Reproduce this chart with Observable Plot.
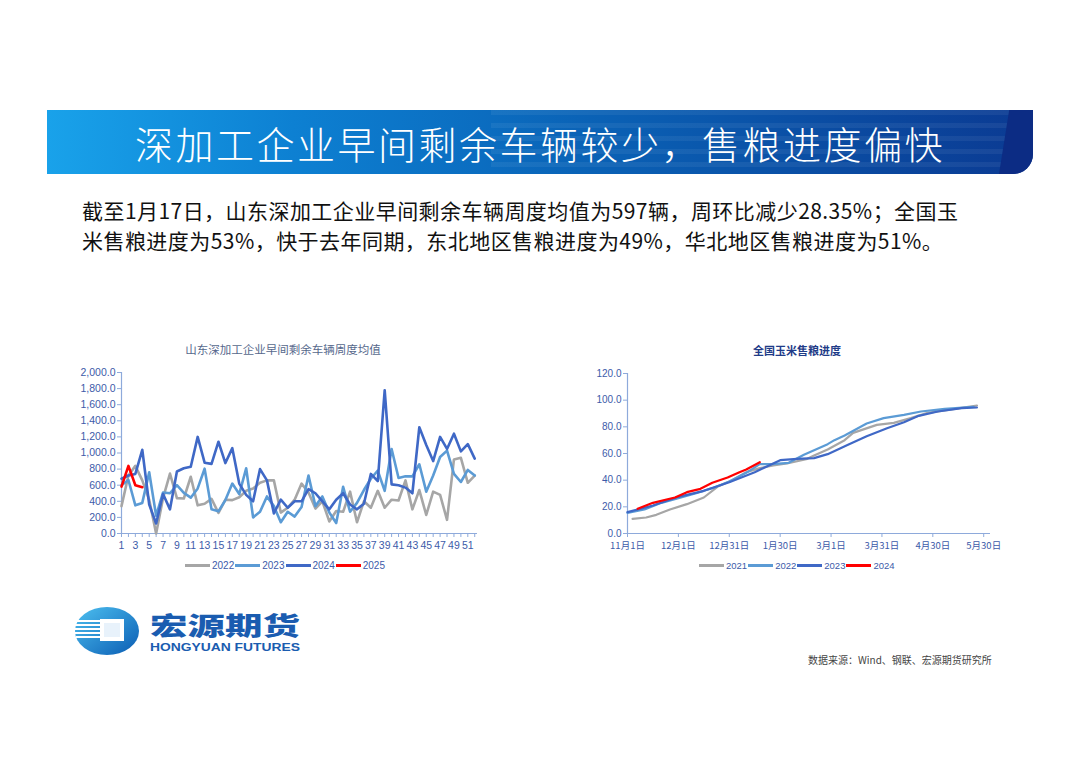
<!DOCTYPE html>
<html><head><meta charset="utf-8">
<script src="https://cdn.jsdelivr.net/npm/d3@7"></script>
<script src="https://cdn.jsdelivr.net/npm/@observablehq/plot@0.6"></script>
<style>
html,body{margin:0;padding:0;background:#fff;}
#page{position:relative;width:1080px;height:764px;overflow:hidden;font-family:"Noto Sans CJK SC",sans-serif;background:#fff;}
.abs{position:absolute;}
#banner{left:47px;top:110px;width:986px;height:64px;overflow:hidden;border-bottom-right-radius:20px;
  background:linear-gradient(90deg,#19a2ea 0%,#0d80d2 25%,#0a62b6 55%,#0a479e 85%,#0b3a92 100%);}
#stripes{right:0;top:0;width:55%;height:100%;
  background:repeating-linear-gradient(180deg,rgba(255,255,255,0.06) 0 5px,rgba(255,255,255,0) 5px 13px);}
#wedge{right:0;top:0;width:34px;height:100%;background:#0c2c84;clip-path:polygon(30% 0,100% 0,100% 100%,0 100%);}
#title{left:135px;top:118px;color:#fff;font-size:38px;font-weight:300;letter-spacing:2.5px;white-space:nowrap;line-height:50px;}
#body{left:82px;top:195px;width:960px;font-size:21px;line-height:30px;color:#111;white-space:nowrap;letter-spacing:0.45px;}
.ctitle{white-space:nowrap;transform:translateX(-50%);}
.legend{display:flex;align-items:center;white-space:nowrap;font-family:"Liberation Sans",Arial,sans-serif;}
.legend .sw{display:inline-block;width:25px;height:3px;margin-right:2px;}
.legend .lb{margin-right:1px;}
#source{left:808px;top:652px;font-size:10px;color:#444;white-space:nowrap;}
</style>
</head><body>
<div id="page">
  <div id="banner" class="abs"><div id="stripes" class="abs"></div><div id="wedge" class="abs"></div></div>
  <div id="title" class="abs">深加工企业早间剩余车辆较少，售粮进度偏快</div>
  <div id="body" class="abs">截至1月17日，山东深加工企业早间剩余车辆周度均值为597辆，周环比减少28.35%；全国玉<br>米售粮进度为53%，快于去年同期，东北地区售粮进度为49%，华北地区售粮进度为51%。</div>

  <div class="abs ctitle" style="left:283px;top:341px;font-size:11.5px;color:#56688c;">山东深加工企业早间剩余车辆周度均值</div>
  <div id="leftChart" class="abs" style="left:70px;top:362px;"></div>
  <div id="leftLegend" class="abs legend" style="left:185px;top:560px;font-size:10px;color:#3d5ba9;"></div>

  <div class="abs ctitle" style="left:797px;top:342px;font-size:11px;font-weight:700;color:#1f3c88;">全国玉米售粮进度</div>
  <div id="rightChart" class="abs" style="left:575px;top:363px;"></div>
  <div id="rightLegend" class="abs legend" style="left:699px;top:560px;font-size:9.5px;color:#3d5ba9;"></div>

  <svg class="abs" style="left:70px;top:602px;" width="240" height="60" viewBox="0 0 240 60">
    <defs>
      <linearGradient id="lg" x1="0" y1="0" x2="1" y2="1">
        <stop offset="0" stop-color="#4dc0f0"/><stop offset="1" stop-color="#0a5cb3"/>
      </linearGradient>
    </defs>
    <ellipse cx="37" cy="29" rx="32" ry="24" fill="url(#lg)"/>
    <rect x="30" y="17" width="24" height="22" fill="#fff"/>
    <rect x="34" y="21" width="16" height="14" fill="#e8f2fb"/>
    <g fill="#fff">
      <rect x="6" y="18" width="24" height="2"/><rect x="5" y="22" width="25" height="2"/>
      <rect x="5" y="26" width="25" height="2"/><rect x="5" y="30" width="25" height="2"/>
      <rect x="6" y="34" width="24" height="2"/>
    </g>
    <text x="80" y="33" font-family="Noto Sans CJK SC" font-weight="900" font-size="25" fill="#1a5cb0" textLength="150" lengthAdjust="spacingAndGlyphs">宏源期货</text>
    <text x="80" y="48.5" font-family="Liberation Sans, Arial" font-weight="700" font-size="10.5" fill="#1a5cb0" textLength="150" lengthAdjust="spacingAndGlyphs">HONGYUAN FUTURES</text>
  </svg>
  <div id="source" class="abs">数据来源：Wind、钢联、宏源期货研究所</div>
</div>
<script>
// ---------- Left chart data: 山东深加工企业早间剩余车辆周度均值 ----------
const weeks = [1,2,3,4,5,6,7,8,9,10,11,12,13,14,15,16,17,18,19,20,21,22,23,24,25,26,27,28,29,30,31,32,33,34,35,36,37,38,39,40,41,42,43,44,45,46,47,48,49,50,51,52];
const s2022 = [340,720,840,660,420,0,440,745,440,435,705,350,370,430,255,420,415,450,530,560,630,660,660,260,320,420,620,510,310,400,150,280,270,520,140,400,320,530,320,420,410,660,300,540,230,520,480,170,920,940,630,720];
const s2023 = [600,665,350,380,760,220,510,500,600,505,445,560,805,300,275,415,620,490,810,200,270,460,340,140,270,210,330,720,340,460,260,130,580,270,380,540,680,780,530,1050,690,710,710,860,520,720,950,1030,740,640,790,720];
const s2024 = [680,720,740,1040,360,125,490,300,770,810,830,1200,880,865,1140,875,1060,620,480,400,800,660,250,420,320,400,400,550,500,400,300,420,500,360,300,370,740,650,1780,610,600,570,500,1320,1100,900,1200,1050,1240,1020,1110,930];
const s2025 = [583,840,600,575];
const leftYTicks = [0,200,400,600,800,1000,1200,1400,1600,1800,2000];
const leftNames = ["2022","2023","2024","2025"];
const leftColors = ["#a6a6a6","#5b9bd5","#3f68c6","#ff0000"];

// ---------- Right chart data: 全国玉米售粮进度 (x = days since 11月1日) ----------
const d2021 = [3,11,17,25,35,45,53,61,70,78,86,94,106,110,118,128,133,147,157,167,177,193,206];
const v2021 = [11,12,14,18,22,27,35,39.5,46,49,51,52.5,56,58.5,63,70,75.5,81.5,83,86.5,90.5,93.5,96];
const d2022 = [0,10,20,30,40,50,60,70,78,85,95,104,118,122,128,141,151,163,173,187,204];
const v2022 = [15.5,18,23,26.5,30,34,39,45.5,52,52,53,59,67,70,73.5,82.5,86.5,89,91.5,93.5,95];
const d2023 = [0,15,30,45,60,75,90,100,110,118,130,141,153,163,171,183,197,206];
const v2023 = [16,21,27.5,32,38.5,46,55,56,56.5,59.5,66.5,73,79,83.5,88,91.5,94,94.5];
const d2024 = [6,15,23,28,35,43,50,59,66,70,78];
const v2024 = [18.5,23,25.5,27,31,33.5,38,42,46,48,53.5];
const rightXTicks = [0,30,60,90,120,150,180,210];
const rightXLabels = ["11月1日","12月1日","12月31日","1月30日","3月1日","3月31日","4月30日","5月30日"];
const rightYTicks = [0,20,40,60,80,100,120];
const rightNames = ["2021","2022","2023","2024"];
const rightColors = ["#a6a6a6","#5b9bd5","#3f68c6","#ff0000"];

const axisColor = "#8eaadb";
const labelColor = "#3d5ba9";

// build tables
const leftSeries = [s2022,s2023,s2024,s2025];
const leftData = leftSeries.flatMap((arr,i)=>arr.map((v,j)=>({week:weeks[j],value:v,series:leftNames[i]})));
const rightD = [d2021,d2022,d2023,d2024], rightV = [v2021,v2022,v2023,v2024];
const rightData = rightD.flatMap((arr,i)=>arr.map((d,j)=>({day:d,value:rightV[i][j],series:rightNames[i]})));

const left = Plot.plot({
  width:420, height:200, marginLeft:51, marginTop:10, marginBottom:29, marginRight:13,
  style:{fontFamily:"'Liberation Sans',Arial,sans-serif", fontSize:"10.5px", color:labelColor, background:"transparent", overflow:"visible"},
  x:{type:"linear", domain:[1,52.4]},
  y:{domain:[0,2000]},
  marks:[
    Plot.axisY({ticks:leftYTicks, tickFormat:d3.format(",.1f"), tickSize:4, tickPadding:2, stroke:axisColor, fill:labelColor, label:null}),
    Plot.axisX({ticks:weeks, tickFormat:d=>d%2?String(d):"", tickSize:4, tickPadding:4, stroke:axisColor, fill:labelColor, label:null}),
    Plot.ruleX([1],{stroke:axisColor, strokeWidth:1.2}),
    Plot.ruleY([0],{stroke:axisColor, strokeWidth:1.2}),
    ...leftNames.map((n,i)=>Plot.line(leftData.filter(d=>d.series===n),{x:"week",y:"value",stroke:leftColors[i],strokeWidth:2.6,strokeLinejoin:"round"}))
  ]
});
document.getElementById("leftChart").appendChild(left);

const right = Plot.plot({
  width:425, height:200, marginLeft:52, marginTop:10, marginBottom:30, marginRight:10,
  style:{fontFamily:"'Liberation Sans','Noto Sans CJK SC',Arial,sans-serif", fontSize:"10px", color:labelColor, background:"transparent", overflow:"visible"},
  x:{type:"linear", domain:[0,214]},
  y:{domain:[0,120]},
  marks:[
    Plot.axisY({ticks:rightYTicks, tickFormat:d3.format(".1f"), tickSize:4, tickPadding:2, stroke:axisColor, fill:labelColor, label:null}),
    Plot.axisX({ticks:rightXTicks, tickFormat:d=>rightXLabels[rightXTicks.indexOf(d)], tickSize:4, tickPadding:5, stroke:axisColor, fill:labelColor, label:null, fontFamily:"'Noto Sans CJK SC',sans-serif", fontSize:9.5}),
    Plot.ruleX([0],{stroke:axisColor, strokeWidth:1.2}),
    Plot.ruleY([0],{stroke:axisColor, strokeWidth:1.2}),
    ...rightNames.map((n,i)=>Plot.line(rightData.filter(d=>d.series===n),{x:"day",y:"value",stroke:rightColors[i],strokeWidth:2.2,strokeLinejoin:"round"}))
  ]
});
document.getElementById("rightChart").appendChild(right);

function legend(id,names,colors){
  const el = document.getElementById(id);
  names.forEach((n,i)=>{
    const sw = document.createElement("span"); sw.className="sw"; sw.style.background=colors[i];
    const lb = document.createElement("span"); lb.className="lb"; lb.textContent=n;
    el.appendChild(sw); el.appendChild(lb);
  });
}
legend("leftLegend",leftNames,leftColors);
legend("rightLegend",rightNames,rightColors);
</script>
</body></html>
